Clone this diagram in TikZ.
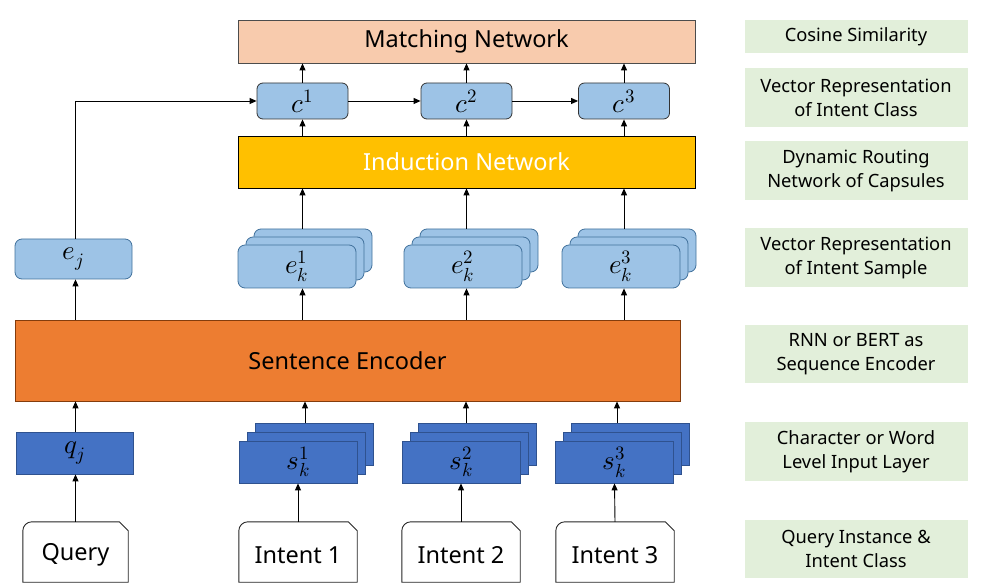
\documentclass[tikz,border=0pt]{standalone}
\usepackage{fontspec}
\usepackage{unicode-math}
\setmainfont{Noto Sans}
\setmathfont{Latin Modern Math}
\usetikzlibrary{arrows.meta}
\definecolor{peach}{HTML}{F8CBAD}
\definecolor{lblue}{HTML}{9DC3E6}
\definecolor{lblueb}{HTML}{41719C}
\definecolor{gold}{HTML}{FFC000}
\definecolor{orng}{HTML}{ED7D31}
\definecolor{orngb}{HTML}{843C0C}
\definecolor{dblue}{HTML}{4472C4}
\definecolor{dblueb}{HTML}{2F528F}
\definecolor{lgreen}{HTML}{E2EFDA}
\tikzset{
  arr/.style={-{Triangle[length=7pt,width=6pt]}, line width=0.9pt, black},
  bigbox/.style={draw=#1, line width=0.8pt, inner sep=0pt, font=\fontsize{23.5}{28}\selectfont},
  mfont/.style={font=\fontsize{27}{30}\selectfont},
  cbox/.style={draw=black!80, fill=lblue, rounded corners=6pt, line width=0.8pt, minimum width=91pt, minimum height=36pt, inner sep=0pt, mfont},
  ebox/.style={draw=lblueb, fill=lblue, rounded corners=7pt, line width=0.8pt, minimum width=118pt, minimum height=43pt, inner sep=0pt, mfont},
  sbox/.style={draw=dblueb, fill=dblue, line width=0.8pt, minimum width=118pt, minimum height=42pt, inner sep=0pt, mfont},
  lbl/.style={fill=lgreen, minimum width=223pt, inner sep=0pt, align=center, font=\fontsize{18.3}{24}\selectfont},
  doc/.style={inner sep=0pt, minimum height=60pt, font=\fontsize{23.5}{26}\selectfont},
  docline/.style={draw=black!85, line width=0.9pt, fill=white},
}
\begin{document}
\begin{tikzpicture}[x=1pt,y=-1pt]
\useasboundingbox (0,0) rectangle (986,588);
% top blocks
\node[bigbox=black!70, fill=peach, minimum width=457pt, minimum height=43pt] (match) at (466.5,41.5) {Matching Network};
\node[bigbox=black, fill=gold, minimum width=457pt, minimum height=52pt, text=white] (induct) at (466.5,162) {Induction Network};
\node[cbox] (c1) at (302.5,101) {$c^1$};
\node[cbox] (c2) at (466.5,101) {$c^2$};
\node[cbox] (c3) at (624,101) {$c^3$};
% e stacks
\foreach \n/\x in {1/297,2/463,3/621}{
  \node[ebox] (e\n b) at (\x+16,250.5) {};
  \node[ebox] (e\n m) at (\x+8,258.5) {};
}
\node[ebox] (e1) at (297,266.5) {$e_k^1$};
\node[ebox] (e2) at (463,266.5) {$e_k^2$};
\node[ebox] (e3) at (621,266.5) {$e_k^3$};
\node[ebox, minimum width=117pt, minimum height=40pt] (ej) at (73.5,259) {$e_j$};
% encoder
\node[bigbox=orngb, fill=orng, minimum width=665pt, minimum height=81pt] (se) at (347.5,360.5) {Sentence Encoder};
% s stacks
\foreach \n/\x in {1/298,2/461,3/614.5}{
  \node[sbox] (s\n b) at (\x+16,444) {};
  \node[sbox] (s\n m) at (\x+8,453) {};
}
\node[sbox] (s1) at (298,462) {$s_k^1$};
\node[sbox] (s2) at (461,462) {$s_k^2$};
\node[sbox] (s3) at (614.5,462) {$s_k^3$};
\node[sbox, minimum width=117pt] (qj) at (74.5,453) {$q_j$};
% documents
\foreach \name/\x/\w/\t in {query/75.5/105/Query, int1/298/118/Intent 1, int2/461/118/Intent 2, int3/615/118/Intent 3}{
  \node[doc, minimum width=\w pt] (\name) at (\x,552) {};
  \draw[docline] (\name.south west) [rounded corners=9pt] -- (\name.north west) [sharp corners] -- ([xshift=-9pt]\name.north east) -- ([yshift=-9pt]\name.north east) -- (\name.south east) -- cycle;
  \node[doc, minimum width=\w pt] at ([yshift=-3pt]\name.center) {\t};
}
% right labels
\node[lbl, minimum height=33pt] (l1) at (856,36.5) {Cosine Similarity};
\node[lbl, minimum height=59pt] (l2) at (856,97.5) {Vector Representation\\of Intent Class};
\node[lbl, minimum height=59pt] (l3) at (856,170.5) {Dynamic Routing\\Network of Capsules};
\node[lbl, minimum height=59pt] (l4) at (856,257.5) {Vector Representation\\of Intent Sample};
\node[lbl, minimum height=58pt] (l5) at (856,354) {RNN or BERT as\\Sequence Encoder};
\node[lbl, minimum height=59pt] (l6) at (856,451.5) {Character or Word\\Level Input Layer};
\node[lbl, minimum height=58pt] (l7) at (856,549) {Query Instance \&\\Intent Class};
% arrows: columns
\foreach \n in {1,2,3}{
  \draw[arr] (c\n.north) -- (match.south -| c\n);
  \draw[arr] (induct.north -| c\n) -- (c\n.south);
  \draw[arr] (e\n b.north -| c\n) -- (induct.south -| c\n);
  \draw[arr] (se.north -| c\n) -- (e\n.south -| c\n);
}
\coordinate (k1) at (305,0);
\coordinate (k2) at (466,0);
\coordinate (k3) at (617,0);
\draw[arr] (s1b.north -| k1) -- (se.south -| k1);
\draw[arr] (s2b.north -| k2) -- (se.south -| k2);
\draw[arr] (s3b.north -| k3) -- (se.south -| k3);
\draw[arr] (int1.north) -- (s1.south);
\draw[arr] (int2.north) -- (s2.south);
\draw[arr] (int3.north) -- (s3.south);
\draw[arr] (query.north) -- (qj.south -| query);
\draw[arr] (qj.north -| query) -- (se.south -| query);
\draw[arr] (se.north -| query) -- (ej.south -| query);
\draw[arr] (ej.north -| query) |- (c1.west);
\draw[arr] (c1.east) -- (c2.west);
\draw[arr] (c2.east) -- (c3.west);
\end{tikzpicture}
\end{document}
